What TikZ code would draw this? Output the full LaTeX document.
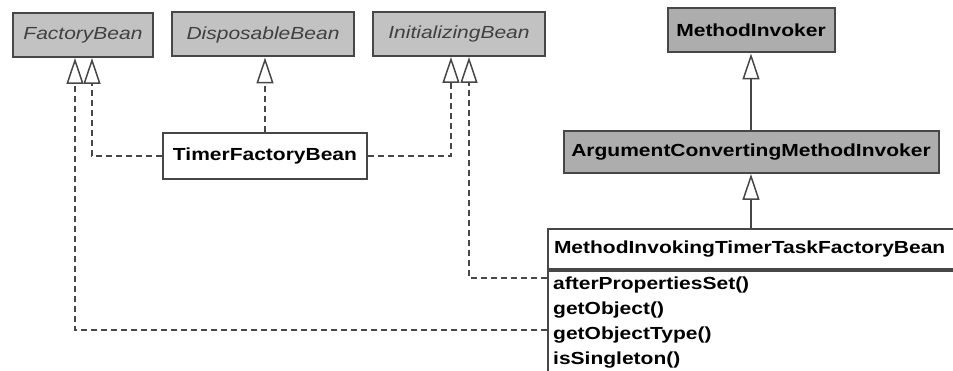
\documentclass[tikz,border=0pt]{standalone}
\usepackage{fontspec}
\setmainfont[FakeStretch=1.2]{Liberation Sans}
\usetikzlibrary{arrows.meta}

\tikzset{
  iface/.style={draw=black!72, fill=black!24, line width=2pt, minimum height=44pt,
    inner sep=0pt, font=\fontsize{17.5}{20}\selectfont\itshape, text=black!75},
  baseclass/.style={draw=black!72, fill=black!32, line width=2pt, minimum height=44pt,
    inner sep=0pt, font=\fontsize{17.5}{20}\selectfont\bfseries},
  cls/.style={draw=black!72, fill=white, line width=2pt, minimum height=44pt,
    inner sep=0pt, font=\fontsize{17.5}{20}\selectfont\bfseries},
  meth/.style={anchor=west, inner sep=0pt, font=\fontsize{17.5}{20}\selectfont\bfseries},
  realize/.style={draw=black!72, line width=1.5pt, dash pattern=on 6pt off 4pt,
    -{Triangle[open,length=26pt,width=17pt,fill=white]}},
  extend/.style={draw=black!72, line width=1.5pt,
    -{Triangle[open,length=26pt,width=17pt,fill=white]}}
}

\begin{document}
\begin{tikzpicture}[x=1pt,y=-1pt]
\useasboundingbox (0,0) rectangle (953,371);
\clip (0,0) rectangle (953,371);
\fill[white] (0,0) rectangle (953,371);

% interfaces
\node[iface, minimum width=140pt] (fb) at (83,35) {FactoryBean};
\node[iface, minimum width=182pt] (db) at (263,34.5) {DisposableBean};
\node[iface, minimum width=172pt] (ib) at (459,34) {InitializingBean};

% super classes
\node[baseclass, minimum width=167pt] (mi) at (751,30.5) {MethodInvoker};
\node[baseclass, minimum width=375pt, minimum height=42pt] (acmi) at (751,152) {ArgumentConvertingMethodInvoker};

% concrete classes
\node[cls, minimum width=204pt, minimum height=46pt] (tfb) at (265,156) {TimerFactoryBean};
\node[cls, anchor=north west, minimum height=40pt, text width=408pt, inner xsep=6pt, align=left] (mitfb) at (547,228) {MethodInvokingTimerTaskFactoryBean};
\node[cls, anchor=north west, minimum width=420pt, minimum height=140pt] (mitfbops) at (mitfb.south west) {};
\node[meth] (m1) at (553,285) {afterPropertiesSet()};
\node[meth] (m2) at (553,310) {getObject()};
\node[meth] (m3) at (553,335) {getObjectType()};
\node[meth] (m4) at (553,360) {isSingleton()};

% arrow ends
\coordinate (fbA) at ([xshift=-8pt]fb.south);
\coordinate (fbB) at ([xshift=9pt]fb.south);
\coordinate (ibA) at ([xshift=-8pt]ib.south);
\coordinate (ibB) at ([xshift=10pt]ib.south);

\draw[realize] (mitfbops.west |- 0,330) -| (fbA);
\draw[realize] (tfb.west) -| (fbB);
\draw[realize] (tfb.north) -- (tfb.north |- db.south);
\draw[realize] (tfb.east) -| (ibA);
\draw[realize] (mitfbops.west |- 0,278) -| (ibB);
\draw[extend] (acmi.north) -- (mi.south);
\draw[extend] (mitfb.north -| acmi.south) -- (acmi.south);
\end{tikzpicture}
\end{document}
